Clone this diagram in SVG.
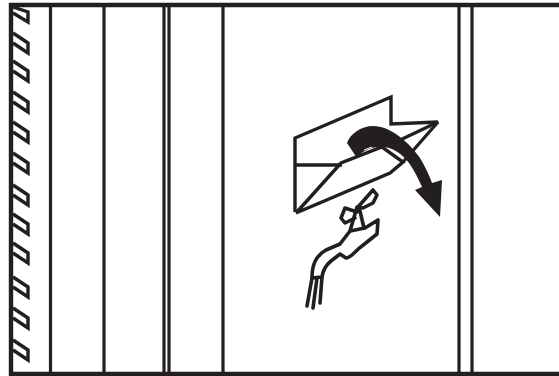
<svg xmlns="http://www.w3.org/2000/svg" width="559" height="376" viewBox="0 0 559 376">
<style>
.l{fill:none;stroke:#231f20;stroke-width:3.2;stroke-linejoin:miter}
.k{fill:none;stroke:#231f20;stroke-width:3.4;stroke-linejoin:miter}
.f{fill:none;stroke:#231f20;stroke-width:4.4}
.e{fill:none;stroke:#231f20;stroke-width:3.4;stroke-linejoin:miter}
.c{fill:none;stroke:#231f20;stroke-width:3.6;stroke-linejoin:round;stroke-linecap:round}
</style>
<rect width="559" height="376" fill="#fff"/>
<g id="frame">
<path class="f" d="M559 5H11V374H559"/>
<path class="l" d="M50.500 7V372M104 7V372M164 7V372M169 7V372M223 7V372M459 7V372M472 7V372"/>
</g>
<g id="teeth">
<path class="k" d="M13 7L28 12V22L13 13"/>
<path class="k" d="M13 33L28 43V53L13 43"/>
<path class="k" d="M13 61L28 71V81L13 71"/>
<path class="k" d="M13 92L28 102V112L13 102"/>
<path class="k" d="M13 122L28 132V142L13 132"/>
<path class="k" d="M13 153L28 163V173L13 163"/>
<path class="k" d="M13 185L28 195V205L13 195"/>
<path class="k" d="M13 214L28 224V234L13 224"/>
<path class="k" d="M13 243L28 253V263L13 253"/>
<path class="k" d="M13 277L28 287V297L13 287"/>
<path class="k" d="M13 308L28 318V328L13 318"/>
<path class="k" d="M13 340L28 350V360L13 350"/>
</g>
<g id="envelope">
<path class="e" d="M295 212V138L391 97V124L438 122L398 141"/>
<path class="e" d="M438 122L403 162"/>
<path class="e" d="M295 165H342"/>
<path class="e" d="M296 213L341 163L382 147L403 162L390 173L296 213"/>
</g>
<g id="arrow">
<path fill="#231f20" d="M347 143C350 134 361 126 373 126C390 126 408 141 420 158C425 166 429 175 432 183L442 180L440 217L415 190L422 187C418 178 414 170 409 163C402 154 393 147 382 147C375 147 364 148 357 158Z"/>
<path d="M364 150L372 147" stroke="#fff" stroke-width="1" fill="none"/>
</g>
<g id="faucet">
<path class="c" d="M312 278C312 264 316 256 326 250L340 244L350 231L365 228L378 220L377 234L362 246C356 250 351 258 346 258L340 254L331 261C326 265 323 270 322 277Z"/>
<path class="c" d="M350 231L357 207M364 228L359 207"/>
<path class="c" d="M357 212L345 208L341 218L345 223L355 218"/>
<path class="c" d="M358 207L373 190L377 195L373 203L363 208Z"/>
<path class="c" d="M312 278L307 306M317 278L313 308M322 277L320 303"/>
</g>
</svg>
